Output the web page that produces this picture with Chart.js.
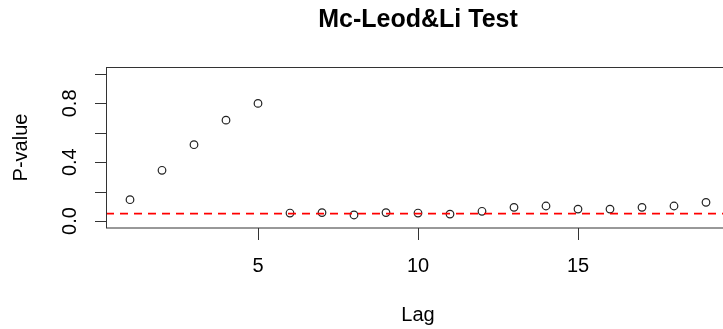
<!DOCTYPE html>
<html>
<head>
<meta charset="utf-8">
<script src="https://cdn.jsdelivr.net/npm/chart.js@4.4.1/dist/chart.umd.min.js"></script>
<style>
  html, body { margin: 0; padding: 0; background: #fff; overflow: hidden; width: 723px; height: 329px; }
  #wrap { width: 723px; height: 329px; overflow: hidden; position: relative; }
  canvas { display: block; }
</style>
</head>
<body>
<div id="wrap"><canvas id="c" width="740" height="329"></canvas></div>
<script>
const titleText = 'Mc-Leod&Li Test';
const xLabel = 'Lag';
const yLabel = 'P-value';
const lags = [1, 2, 3, 4, 5, 6, 7, 8, 9, 10, 11, 12, 13, 14, 15, 16, 17, 18, 19];
const pValues = [0.145, 0.345, 0.519, 0.686, 0.800, 0.054, 0.057, 0.041, 0.057, 0.054,
                 0.047, 0.066, 0.093, 0.102, 0.081, 0.081, 0.093, 0.102, 0.127];
const threshold = 0.05;
const xTicks = [5, 10, 15];
const yTicks = [0.0, 0.2, 0.4, 0.6, 0.8, 1.0];
const yTickLabels = ['0.0', '', '0.4', '', '0.8', ''];
const xRange = [0.25, 19.75];
const yRange = [-0.0476, 1.0476];

const FONT = '"Liberation Sans", Arial, Helvetica, sans-serif';

const decor = {
  id: 'decor',
  afterDraw(chart) {
    const ctx = chart.ctx;
    const a = chart.chartArea;
    const xs = chart.scales.x, ys = chart.scales.y;
    ctx.save();
    ctx.strokeStyle = '#333';
    ctx.lineWidth = 1;
    ctx.strokeRect(a.left + 0.5, a.top + 0.5, a.right - a.left - 1, a.bottom - a.top - 0.5);
    ctx.beginPath();
    xTicks.forEach(v => {
      const px = Math.round(xs.getPixelForValue(v)) + 0.5;
      ctx.moveTo(px, a.bottom);
      ctx.lineTo(px, a.bottom + 12);
    });
    yTicks.forEach(v => {
      const py = Math.round(ys.getPixelForValue(v)) + 0.5;
      ctx.moveTo(a.left, py);
      ctx.lineTo(a.left - 11, py);
    });
    ctx.stroke();
    ctx.fillStyle = '#000';
    ctx.font = '20px ' + FONT;
    ctx.textAlign = 'center';
    ctx.textBaseline = 'alphabetic';
    xTicks.forEach(v => {
      ctx.fillText(String(v), xs.getPixelForValue(v), 272);
    });
    yTicks.forEach((v, i) => {
      if (!yTickLabels[i]) return;
      ctx.save();
      ctx.translate(76, ys.getPixelForValue(v));
      ctx.rotate(-Math.PI / 2);
      ctx.fillText(yTickLabels[i], 0, 0);
      ctx.restore();
    });
    const cx = (a.left + a.right) / 2;
    ctx.fillText(xLabel, cx, 321);
    ctx.save();
    ctx.translate(27, (a.top + a.bottom) / 2);
    ctx.rotate(-Math.PI / 2);
    ctx.fillText(yLabel, 0, 0);
    ctx.restore();
    ctx.font = 'bold 25px ' + FONT;
    ctx.fillText(titleText, cx, 27);
    ctx.restore();
  }
};

new Chart(document.getElementById('c'), {
  type: 'scatter',
  data: {
    datasets: [
      {
        type: 'line',
        data: [{ x: xRange[0], y: threshold }, { x: xRange[1], y: threshold }],
        borderColor: '#ff0000',
        borderWidth: 1.7,
        borderDash: [8, 6],
        pointRadius: 0,
        fill: false
      },
      {
        data: lags.map((l, i) => ({ x: l, y: pValues[i] })),
        pointRadius: 3.8,
        pointBorderWidth: 1.2,
        pointBorderColor: '#222',
        pointBackgroundColor: 'rgba(255,255,255,0)',
        showLine: false
      }
    ]
  },
  options: {
    responsive: false,
    animation: false,
    devicePixelRatio: 1,
    layout: { padding: { left: 106, right: 10, top: 67, bottom: 101 } },
    plugins: { legend: { display: false }, title: { display: false }, tooltip: { enabled: false } },
    scales: {
      x: { type: 'linear', display: false, min: xRange[0], max: xRange[1] },
      y: { type: 'linear', display: false, min: yRange[0], max: yRange[1] }
    }
  },
  plugins: [decor]
});
</script>
</body>
</html>
